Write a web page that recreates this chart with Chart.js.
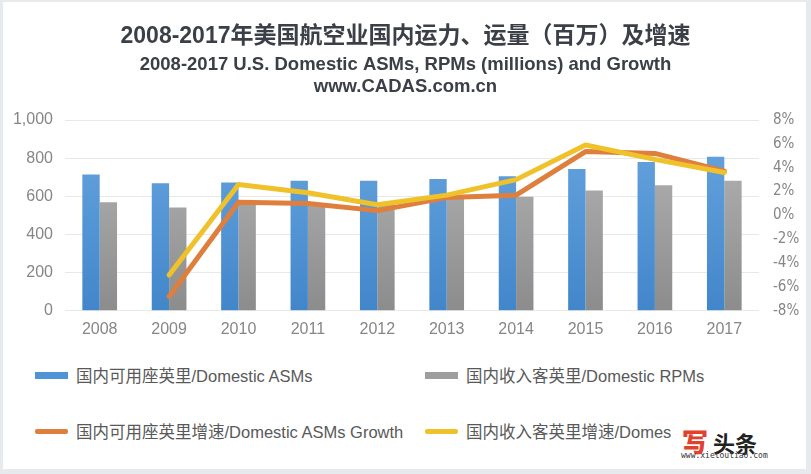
<!DOCTYPE html>
<html>
<head>
<meta charset="utf-8">
<script src="https://cdn.jsdelivr.net/npm/chart.js@4"></script>
<style>
  body { margin: 0; background: #fff; }
  #wrap { position: relative; width: 811px; height: 474px; background: #fff; overflow: hidden; }
  #frame { position: absolute; left: 0; top: 0; width: 811px; height: 474px; box-sizing: border-box;
           border-style: solid; border-color: #e7eaed; border-width: 2px 5px 5px 3px; pointer-events: none; }
  #c { position: absolute; left: 0; top: 0; }
  .lg { position: absolute; display: flex; align-items: center; white-space: nowrap;
        font-family: "Liberation Sans", "Noto Sans CJK SC", sans-serif; font-size: 16.5px; color: #595959; }
  .lg i { display: inline-block; width: 33px; margin-right: 8px; }
  #logo { position: absolute; left: 671px; top: 418px; width: 130px; height: 46px; background: #fff; }
  #logo .t { position: absolute; left: 11px; top: 4px; font-family: "Noto Sans CJK SC", sans-serif; font-weight: bold; font-size: 22px; color: #222; }
  #logo .t b { color: #e2412d; font-size: 26px; }
  #logo .u { position: absolute; left: 10px; top: 33px; font-family: "DejaVu Sans Mono", monospace; font-size: 8px; color: #333; }
</style>
</head>
<body>
<div id="wrap">
  <canvas id="c" width="811" height="350"></canvas>
  <div id="legend"></div>
  <div id="logo"><div class="t"><b>写</b> 头条</div><div class="u">www.xietoutiao.com</div></div>
  <div id="frame"></div>
</div>
<script>
const years = ['2008', '2009', '2010', '2011', '2012', '2013', '2014', '2015', '2016', '2017'];
const asms = [714, 668, 672, 682, 682, 691, 705, 743, 780, 808];
const rpms = [569, 541, 557, 565, 570, 588, 598, 630, 658, 682];
const asmGrowth = [null, -6.8, 1.1, 1.0, 0.4, 1.5, 1.7, 5.35, 5.2, 3.7];
const rpmGrowth = [null, -5.0, 2.6, 1.9, 0.9, 1.7, 3.0, 5.9, 4.7, 3.6];

const seriesNames = [
  '国内可用座英里/Domestic ASMs',
  '国内收入客英里/Domestic RPMs',
  '国内可用座英里增速/Domestic ASMs Growth',
  '国内收入客英里增速/Domestic RPMs Growth'
];

function barGradient(top, bottom) {
  return (context) => {
    const area = context.chart.chartArea;
    if (!area) return bottom;
    const g = context.chart.ctx.createLinearGradient(0, area.top + 30, 0, area.bottom);
    g.addColorStop(0, top);
    g.addColorStop(1, bottom);
    return g;
  };
}

const tickFont = { family: '"Liberation Sans", sans-serif', size: 16 };
const pctFont = { family: '"Liberation Sans Narrow", "DejaVu Sans Condensed", "Liberation Sans", sans-serif', size: 15 };

const chart = new Chart(document.getElementById('c'), {
  type: 'bar',
  data: {
    labels: years,
    datasets: [
      { label: seriesNames[0], data: asms, yAxisID: 'y', order: 2,
        backgroundColor: barGradient('#63a1dc', '#4286ca'),
        categoryPercentage: 0.5, barPercentage: 1.0 },
      { label: seriesNames[1], data: rpms, yAxisID: 'y', order: 3,
        backgroundColor: barGradient('#b0b0b0', '#8c8c8c'),
        categoryPercentage: 0.5, barPercentage: 1.0 },
      { type: 'line', label: seriesNames[2], data: asmGrowth, yAxisID: 'y1', order: 1,
        borderColor: '#de7f3e', borderWidth: 5, pointRadius: 0, tension: 0,
        borderJoinStyle: 'round', borderCapStyle: 'round' },
      { type: 'line', label: seriesNames[3], data: rpmGrowth, yAxisID: 'y1', order: 0,
        borderColor: '#efc22b', borderWidth: 5, pointRadius: 0, tension: 0,
        borderJoinStyle: 'round', borderCapStyle: 'round' }
    ]
  },
  options: {
    responsive: false,
    animation: false,
    layout: { padding: { left: 7, right: 7, bottom: 2 } },
    plugins: {
      legend: { display: false },
      tooltip: { enabled: false },
      title: {
        display: true,
        text: '2008-2017年美国航空业国内运力、运量（百万）及增速',
        color: '#3b4048',
        font: { family: '"Liberation Sans", "Noto Sans CJK SC", sans-serif', size: 23, weight: 'bold' },
        padding: { top: 23, bottom: 3 }
      },
      subtitle: {
        display: true,
        text: ['2008-2017 U.S. Domestic ASMs, RPMs (millions) and Growth', 'www.CADAS.com.cn'],
        color: '#3b4048',
        font: { family: '"Liberation Sans", sans-serif', size: 18.5, weight: 'bold', lineHeight: 1.2 },
        padding: { top: 0, bottom: 22 }
      }
    },
    scales: {
      x: {
        grid: { display: false, drawTicks: false },
        border: { display: false },
        ticks: { color: '#868686', font: tickFont, padding: 9 }
      },
      y: {
        position: 'left',
        min: 0, max: 1000,
        ticks: { stepSize: 200, color: '#868686', font: tickFont, padding: 12 },
        grid: { color: '#e8e8e8', drawTicks: false },
        border: { display: false },
        afterFit: (s) => { s.width = 58; }
      },
      y1: {
        position: 'right',
        min: -8, max: 8,
        ticks: { stepSize: 2, color: '#868686', font: pctFont, padding: 14, callback: (v) => v + '%' },
        grid: { display: false, drawTicks: false },
        border: { display: false },
        afterFit: (s) => { s.width = 45; }
      }
    }
  }
});

// legend built from the chart's datasets, 2 columns x 2 rows
const legendPos = [[35, 374], [425, 374], [35, 430], [425, 430]];
const legendEl = document.getElementById('legend');
chart.data.datasets.forEach((ds, i) => {
  const item = document.createElement('div');
  item.className = 'lg';
  item.style.left = legendPos[i][0] + 'px';
  item.style.top = (legendPos[i][1] - 11) + 'px';
  const sw = document.createElement('i');
  if (ds.type === 'line') {
    sw.style.height = '5px';
    sw.style.background = ds.borderColor;
    sw.style.borderRadius = '2px';
  } else {
    sw.style.height = '7px';
    sw.style.background = i === 0 ? '#4f94d6' : '#9e9e9e';
  }
  item.appendChild(sw);
  item.appendChild(document.createTextNode(ds.label));
  legendEl.appendChild(item);
});
</script>
</body>
</html>
